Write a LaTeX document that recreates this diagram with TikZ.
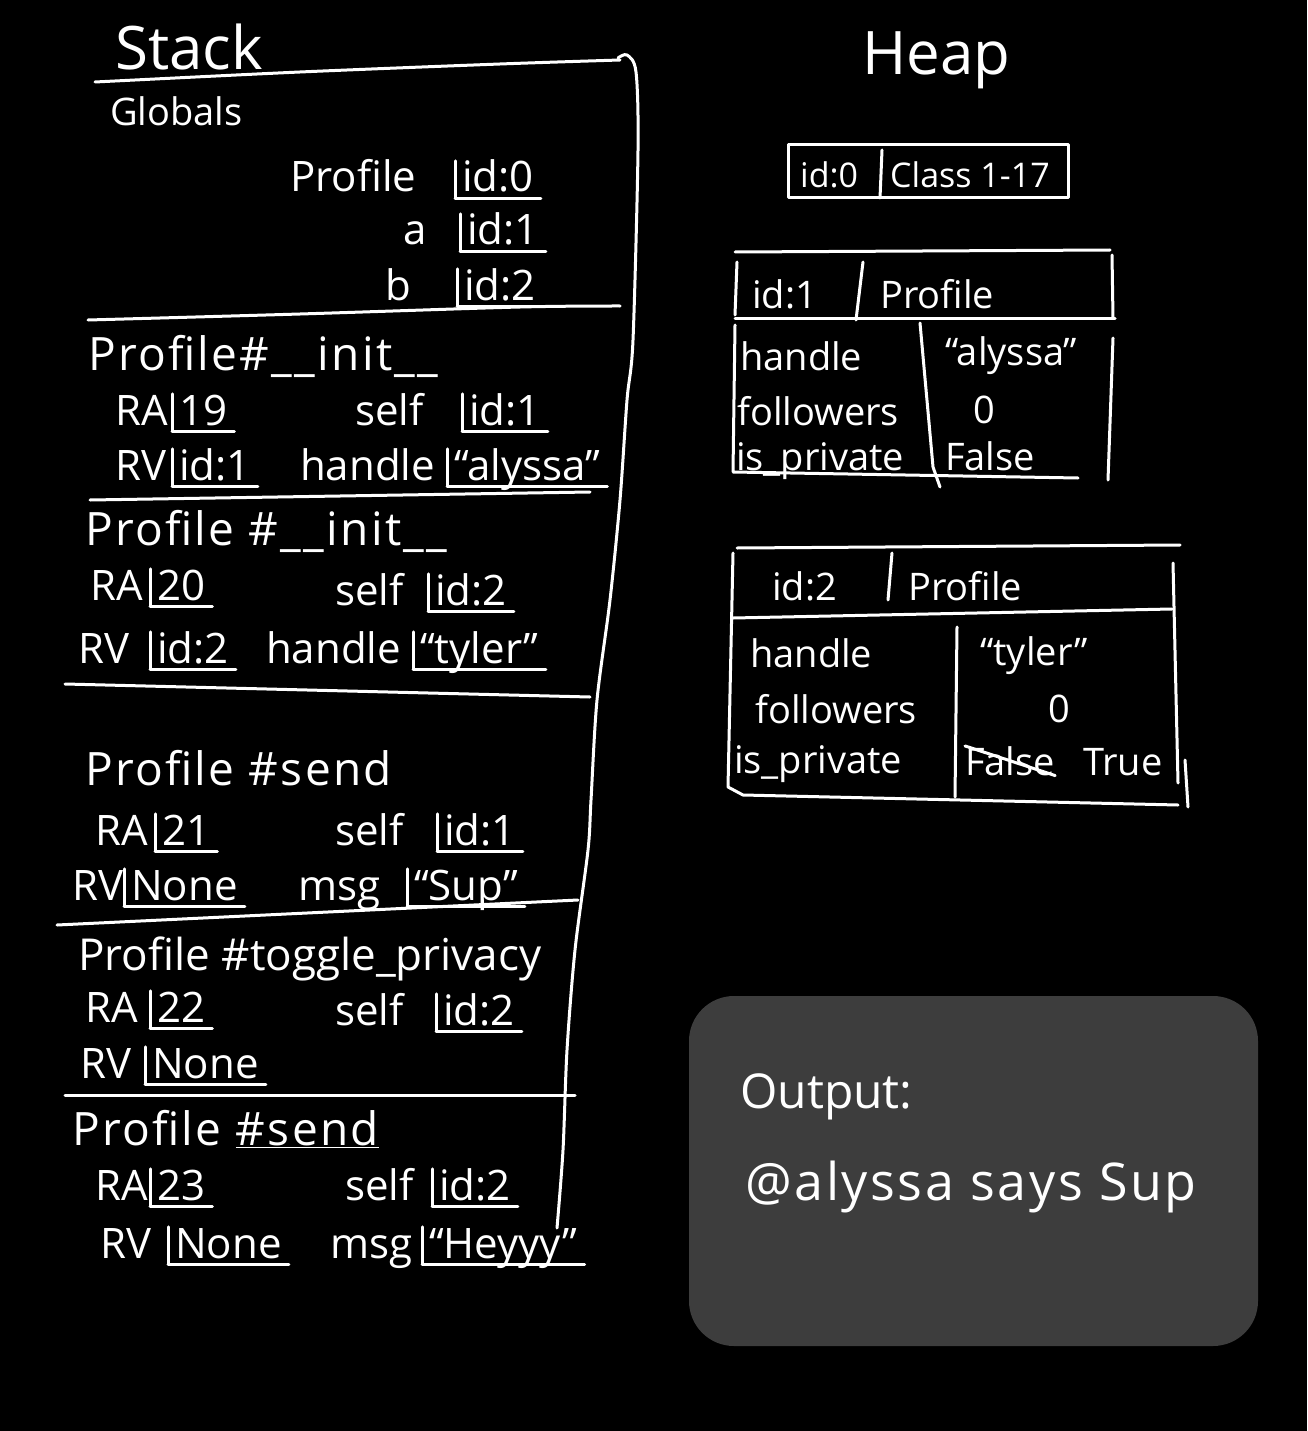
\documentclass[tikz,border=0pt]{standalone}
\usepackage{fontspec}
\newfontfamily\handfamily{Open Sans}
\newfontfamily\headfamily[LetterSpace=5]{Open Sans}
\newcommand\handfont{\handfamily\fontsize{42}{50}\selectfont}
\newcommand\headhand{\headfamily\fontsize{46}{54}\selectfont}
\newcommand\smallhand{\handfamily\fontsize{38}{46}\selectfont}
\newcommand\bighand{\handfamily\fontsize{60}{70}\selectfont}
\newcommand\outhand{\handfamily\fontsize{48}{56}\selectfont}
\newcommand\outbig{\headfamily\fontsize{52}{60}\selectfont}
\definecolor{boardgray}{RGB}{61,61,61}

\tikzset{
	ink/.style={draw=white, line width=3pt, line cap=round, line join=round},
	hand/.style={text=white, font=\handfont, inner sep=0pt, anchor=base west},
	ptr/.style={hand, inner xsep=7pt, text height=31pt, text depth=6pt,
		append after command={(\tikzlastnode.south west) edge[ink] (\tikzlastnode.north west)
			edge[ink] (\tikzlastnode.south east)}},
	framehead/.style={hand, font=\headhand},
	title/.style={hand, font=\bighand},
	field/.style={hand, font=\smallhand},
}

\begin{document}
\begin{tikzpicture}[x=1pt, y=-1pt]

	% ---- board

	\useasboundingbox (0,0) rectangle (1307,1431);
	\fill[black] (0,0) rectangle (1307,1431);

	% ---- stack frame

	\node[title] (stacktitle) at (115,70) {Stack};
	\draw[ink] plot[smooth] coordinates {(95,82) (300,72) (500,64) (620,60)};
	\draw[ink] plot[smooth] coordinates {(618,58) (627,55) (636,72) (638,150) (633,340)
		(627,400) (620,500) (610,600) (597,700) (591,800) (588,850) (575,950)
		(567,1050) (563,1150) (557,1228)};

	% ---- globals

	\node[hand, font=\smallhand] (globals) at (110,126) {Globals};

	\node[hand] (g0n) at (290,192) {Profile};
	\node[ptr]  (g0p) at (455,192) {id:0};
	\node[hand] (g1n) at (403,245) {a};
	\node[ptr]  (g1p) at (460,245) {id:1};
	\node[hand] (g2n) at (385,300) {b};
	\node[ptr]  (g2p) at (457,300) {id:2};

	\draw[ink] plot[smooth] coordinates {(88,320) (300,314) (520,307) (620,306)};

	% ---- frame: init alyssa

	\node[framehead] (f1h) at (88,370) {Profile\#\_\_init\_\_};
	\node[hand] (f1ra) at (115,425) {RA};
	\node[ptr]  (f1rp) at (172,425) {19};
	\node[hand] (f1s)  at (355,425) {self};
	\node[ptr]  (f1sp) at (462,425) {id:1};
	\node[hand] (f1rv) at (115,480) {RV};
	\node[ptr]  (f1vp) at (172,480) {id:1};
	\node[hand] (f1hd) at (300,480) {handle};
	\node[ptr]  (f1hp) at (447,480) {“alyssa”};

	\draw[ink] (90,500) -- (590,492);

	% ---- frame: init tyler

	\node[framehead] (f2h) at (85,545) {Profile \#\_\_init\_\_};
	\node[hand] (f2ra) at (90,600)  {RA};
	\node[ptr]  (f2rp) at (150,600) {20};
	\node[hand] (f2s)  at (335,605) {self};
	\node[ptr]  (f2sp) at (428,605) {id:2};
	\node[hand] (f2rv) at (78,663)  {RV};
	\node[ptr]  (f2vp) at (150,663) {id:2};
	\node[hand] (f2hd) at (266,663) {handle};
	\node[ptr]  (f2hp) at (413,663) {“tyler”};

	\draw[ink] (65,684) -- (590,697);

	% ---- frame: send Sup

	\node[framehead] (f3h) at (85,785) {Profile \#send};
	\node[hand] (f3ra) at (95,845)  {RA};
	\node[ptr]  (f3rp) at (155,845) {21};
	\node[hand] (f3s)  at (335,845) {self};
	\node[ptr]  (f3sp) at (437,845) {id:1};
	\node[hand] (f3rv) at (72,900)  {RV};
	\node[ptr]  (f3vp) at (124,900) {None};
	\node[hand] (f3m)  at (298,900) {msg};
	\node[ptr]  (f3mp) at (407,900) {“Sup”};

	\draw[ink] (57,925) -- (578,900);

	% ---- frame: toggle privacy

	\node[hand, font=\handfamily\fontsize{44}{52}\selectfont] (f4h) at (78,970) {Profile \#toggle\_privacy};
	\node[hand] (f4ra) at (85,1022)  {RA};
	\node[ptr]  (f4rp) at (150,1022) {22};
	\node[hand] (f4s)  at (335,1025) {self};
	\node[ptr]  (f4sp) at (436,1025) {id:2};
	\node[hand] (f4rv) at (80,1078)  {RV};
	\node[ptr]  (f4vp) at (145,1078) {None};

	\draw[ink] (65,1095) -- (575,1095);

	% ---- frame: send Heyyy

	\node[framehead] (f5h) at (72,1145) {Profile \underline{\#send}};
	\node[hand] (f5ra) at (95,1200)  {RA};
	\node[ptr]  (f5rp) at (150,1200) {23};
	\node[hand] (f5s)  at (345,1200) {self};
	\node[ptr]  (f5sp) at (432,1200) {id:2};
	\node[hand] (f5rv) at (100,1258) {RV};
	\node[ptr]  (f5vp) at (168,1258) {None};
	\node[hand] (f5m)  at (330,1258) {msg};
	\node[ptr]  (f5mp) at (422,1258) {“Heyyy”};

	% ---- heap

	\node[title] (heaptitle) at (862,75) {Heap};

	% class object
	\draw[ink] (788,145) rectangle (1068,198);
	\draw[ink] (882,150) -- (880,198);
	\node[field, font=\handfamily\fontsize{34}{40}\selectfont] (h0id)  at (800,188) {id:0};
	\node[field, font=\handfamily\fontsize{34}{40}\selectfont] (h0cls) at (890,188) {Class 1-17};

	% profile id:1
	\draw[ink] (735,252) -- (1110,250);
	\draw[ink] (737,262) -- (735,315);
	\draw[ink] (1112,255) -- (1113,318);
	\draw[ink] (735,318) -- (1115,318);
	\draw[ink] (863,262) -- (856,320);
	\draw[ink] (735,325) -- (733,472) -- (1078,478);
	\draw[ink] (920,323) -- (933,467) -- (940,487);
	\draw[ink] (1113,338) -- (1108,480);
	\node[field] (h1id)  at (752,308) {id:1};
	\node[field] (h1cls) at (880,308) {Profile};
	\node[field] (h1k1)  at (740,370) {handle};
	\node[field] (h1k2)  at (737,425) {followers};
	\node[field] (h1k3)  at (736,470) {is\_private};
	\node[field] (h1v1)  at (945,365) {“alyssa”};
	\node[field] (h1v2)  at (973,423) {0};
	\node[field] (h1v3)  at (945,470) {False};

	% profile id:2
	\draw[ink] (737,548) -- (1180,545);
	\draw[ink] (733,553) -- (728,787) -- (743,795) -- (1178,805);
	\draw[ink] (733,618) -- (1172,609);
	\draw[ink] (1173,563) -- (1178,783);
	\draw[ink] (1185,760) -- (1188,807);
	\draw[ink] (957,627) -- (955,797);
	\draw[ink] (892,553) -- (888,600);
	\node[field] (h2id)  at (772,600) {id:2};
	\node[field] (h2cls) at (908,600) {Profile};
	\node[field] (h2k1)  at (750,667) {handle};
	\node[field] (h2k2)  at (755,723) {followers};
	\node[field] (h2k3)  at (734,773) {is\_private};
	\node[field] (h2v1)  at (980,665) {“tyler”};
	\node[field] (h2v2)  at (1048,722) {0};
	\node[field] (h2v3)  at (965,775) {False};
	\node[field] (h2v4)  at (1083,775) {True};
	\draw[ink] (h2v3.north west) -- (h2v3.south east);

	% ---- output

	\fill[boardgray, rounded corners=45pt] (689,996) rectangle (1258,1346);
	\node[hand, font=\outhand] (outlabel) at (740,1108) {Output:};
	\node[hand, font=\outbig]  (outtext)  at (745,1200) {@alyssa says Sup};

\end{tikzpicture}
\end{document}
